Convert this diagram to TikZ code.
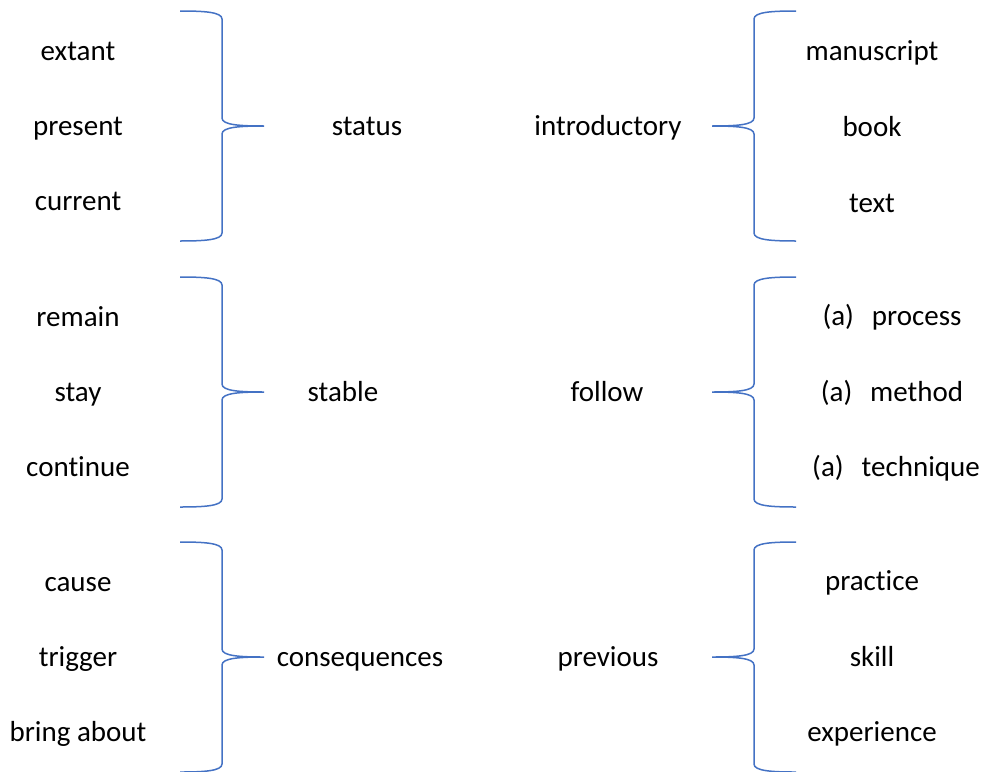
\documentclass[tikz,border=0pt]{standalone}
\usepackage{fontspec}
\setmainfont{Carlito}[Ligatures=NoCommon]
\begin{document}
\begin{tikzpicture}[x=1pt,y=-1pt,
  word/.style={inner sep=0pt, font=\fontsize{29}{34}\selectfont},
  bracecol/.style={draw=braceblue, line width=1.5pt},
  bracer/.pic={
    \draw[bracecol] (-84,-115) .. controls (-60,-115) and (-42,-114) .. (-42,-107)
      -- (-42,-8) .. controls (-42,-1) and (-24,0) .. (0,0)
      .. controls (-24,0) and (-42,1) .. (-42,8)
      -- (-42,107) .. controls (-42,114) and (-60,115) .. (-84,115);
  }]
\definecolor{braceblue}{HTML}{4472C4}
\useasboundingbox (0,0) rectangle (984,771);

% left-hand lists and their braces
\foreach \r/\ym/\a/\b/\c in {
    1/126/extant/present/current,
    2/392/remain/stay/continue,
    3/657/cause/trigger/bring about}{
  \node[word] (la\r) at (78,\ym-72) {\strut\a};
  \node[word] (lb\r) at (78,\ym+3) {\strut\b};
  \node[word] (lc\r) at (78,\ym+78) {\strut\c};
  \pic at (264,\ym) {bracer};
  \coordinate (ltip\r) at (264,\ym);
}
\node[word] (lm1) at (367,129) {\strut status};
\node[word] (lm2) at (343,395) {\strut stable};
\node[word] (lm3) at (360,660) {\strut consequences};

% right-hand lists and their braces
\foreach \r/\ym/\mid/\cx in {1/126/introductory/608, 2/392/follow/607, 3/657/previous/608}{
  \node[word] (rm\r) at (\cx,\ym+3) {\strut\mid};
  \pic[xscale=-1] at (712,\ym) {bracer};
  \coordinate (rtip\r) at (712,\ym);
}
\node[word] (ra1) at (872,54) {\strut manuscript};
\node[word] (rb1) at (872,130) {\strut book};
\node[word] (rc1) at (872,206) {\strut text};
\node[word] (ra2) at (892,319) {\strut (a)\hspace{0.62em}process};
\node[word] (rb2) at (892,395) {\strut (a)\hspace{0.62em}method};
\node[word] (rc2) at (896,470) {\strut (a)\hspace{0.62em}technique};
\node[word] (ra3) at (872,584) {\strut practice};
\node[word] (rb3) at (872,660) {\strut skill};
\node[word] (rc3) at (872,735) {\strut experience};
\end{tikzpicture}
\end{document}
